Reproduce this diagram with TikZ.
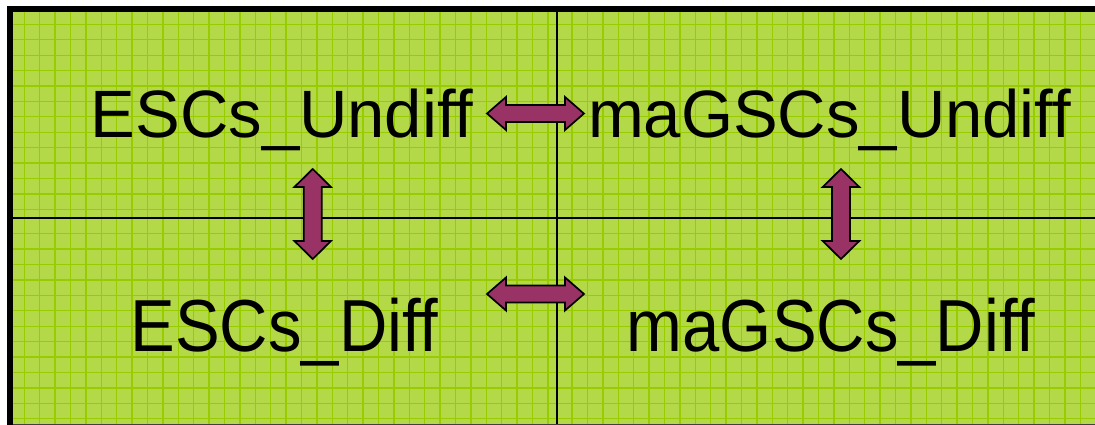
\documentclass[tikz,border=0pt]{standalone}
\usepackage{fontspec}
\setmainfont{Liberation Sans}
\definecolor{fieldgreen}{RGB}{179,217,72}
\definecolor{gridgreen}{RGB}{153,204,0}
\definecolor{arrowplum}{RGB}{153,51,102}

% one grid-patterned panel: #1,#2 = top-left corner, #3,#4 = bottom-right corner
\newcommand\gridpanel[4]{%
  \begin{scope}
    \clip (#1,#2) rectangle (#3,#4);
    \fill[fieldgreen] (#1,#2) rectangle (#3,#4);
    \begin{scope}[shift={(#1,#2)}]
      \draw[gridline] (-2,260) grid (600,-2);
    \end{scope}
  \end{scope}}

\tikzset{
  gridline/.style={draw=gridgreen, line width=1.3pt, xstep=15.4pt, ystep=15.42pt},
  divider/.style={draw=black, line width=2.3pt},
  frame/.style={draw=black, line width=6pt},
  baseedge/.style={draw=black!75, line width=1.6pt},
  blockarrow/.style={draw=black, fill=arrowplum, line width=1.7pt, line join=miter},
  label text/.style={inner sep=0pt, anchor=base, font=\fontsize{67}{80}\selectfont},
  harrow/.pic={\draw[blockarrow] (-48.5,0) -- (-29.5,-16.5) -- (-29.5,-8.5)
      -- (29.5,-8.5) -- (29.5,-16.5) -- (48.5,0) -- (29.5,16.5) -- (29.5,8.5)
      -- (-29.5,8.5) -- (-29.5,16.5) -- cycle;},
  varrow/.pic={\draw[blockarrow] (0,-45) -- (18.3,-27) -- (9,-27) -- (9,27)
      -- (18.3,27) -- (0,45) -- (-18.3,27) -- (-9,27) -- (-9,-27)
      -- (-18.3,-27) -- cycle;}
}

\begin{document}
\begin{tikzpicture}[x=1pt,y=-1pt]
\useasboundingbox (0,0) rectangle (1095,425);
\clip (0,0) rectangle (1095,425);

% four gridded quadrants
\gridpanel{8.9}{8.9}{556.7}{218.3}
\gridpanel{556.7}{8.9}{1100}{218.3}
\gridpanel{8.9}{218.3}{556.7}{430}
\gridpanel{556.7}{218.3}{1100}{430}

% quadrant dividers
\coordinate (vtop) at (556.7,9);
\coordinate (vbot) at (556.7,425);
\coordinate (hleft) at (9,218.3);
\coordinate (hright) at (1095,218.3);
\draw[divider] (vtop) -- (vbot);
\draw[divider] (hleft) -- (hright);

% outer frame: heavy top and left edges, light bottom edge
\coordinate (ftr) at (1100,9.3);
\coordinate (ftl) at (10,9.3);
\coordinate (fbl) at (10,430);
\coordinate (bl) at (8,424.4);
\coordinate (br) at (1100,424.4);
\draw[baseedge] (bl) -- (br);
\draw[frame] (ftr) -- (ftl) -- (fbl);

% labels
\node[label text] (eu) at (282,137.3) {ESCs\_Undiff};
\node[label text] (gu) at (829.5,137.3) {maGSCs\_Undiff};
\node[label text] (ed) at (284.5,351) {\scalebox{1}[1.1]{ESCs\_Diff}};
\node[label text] (gd) at (831,351) {\scalebox{1}[1.1]{maGSCs\_Diff}};

% two-headed block arrows between the labels
\pic at (535.5,113.5) {harrow};
\pic at (535.5,294) {harrow};
\pic at (312.7,214) {varrow};
\pic at (841,214) {varrow};
\end{tikzpicture}
\end{document}
